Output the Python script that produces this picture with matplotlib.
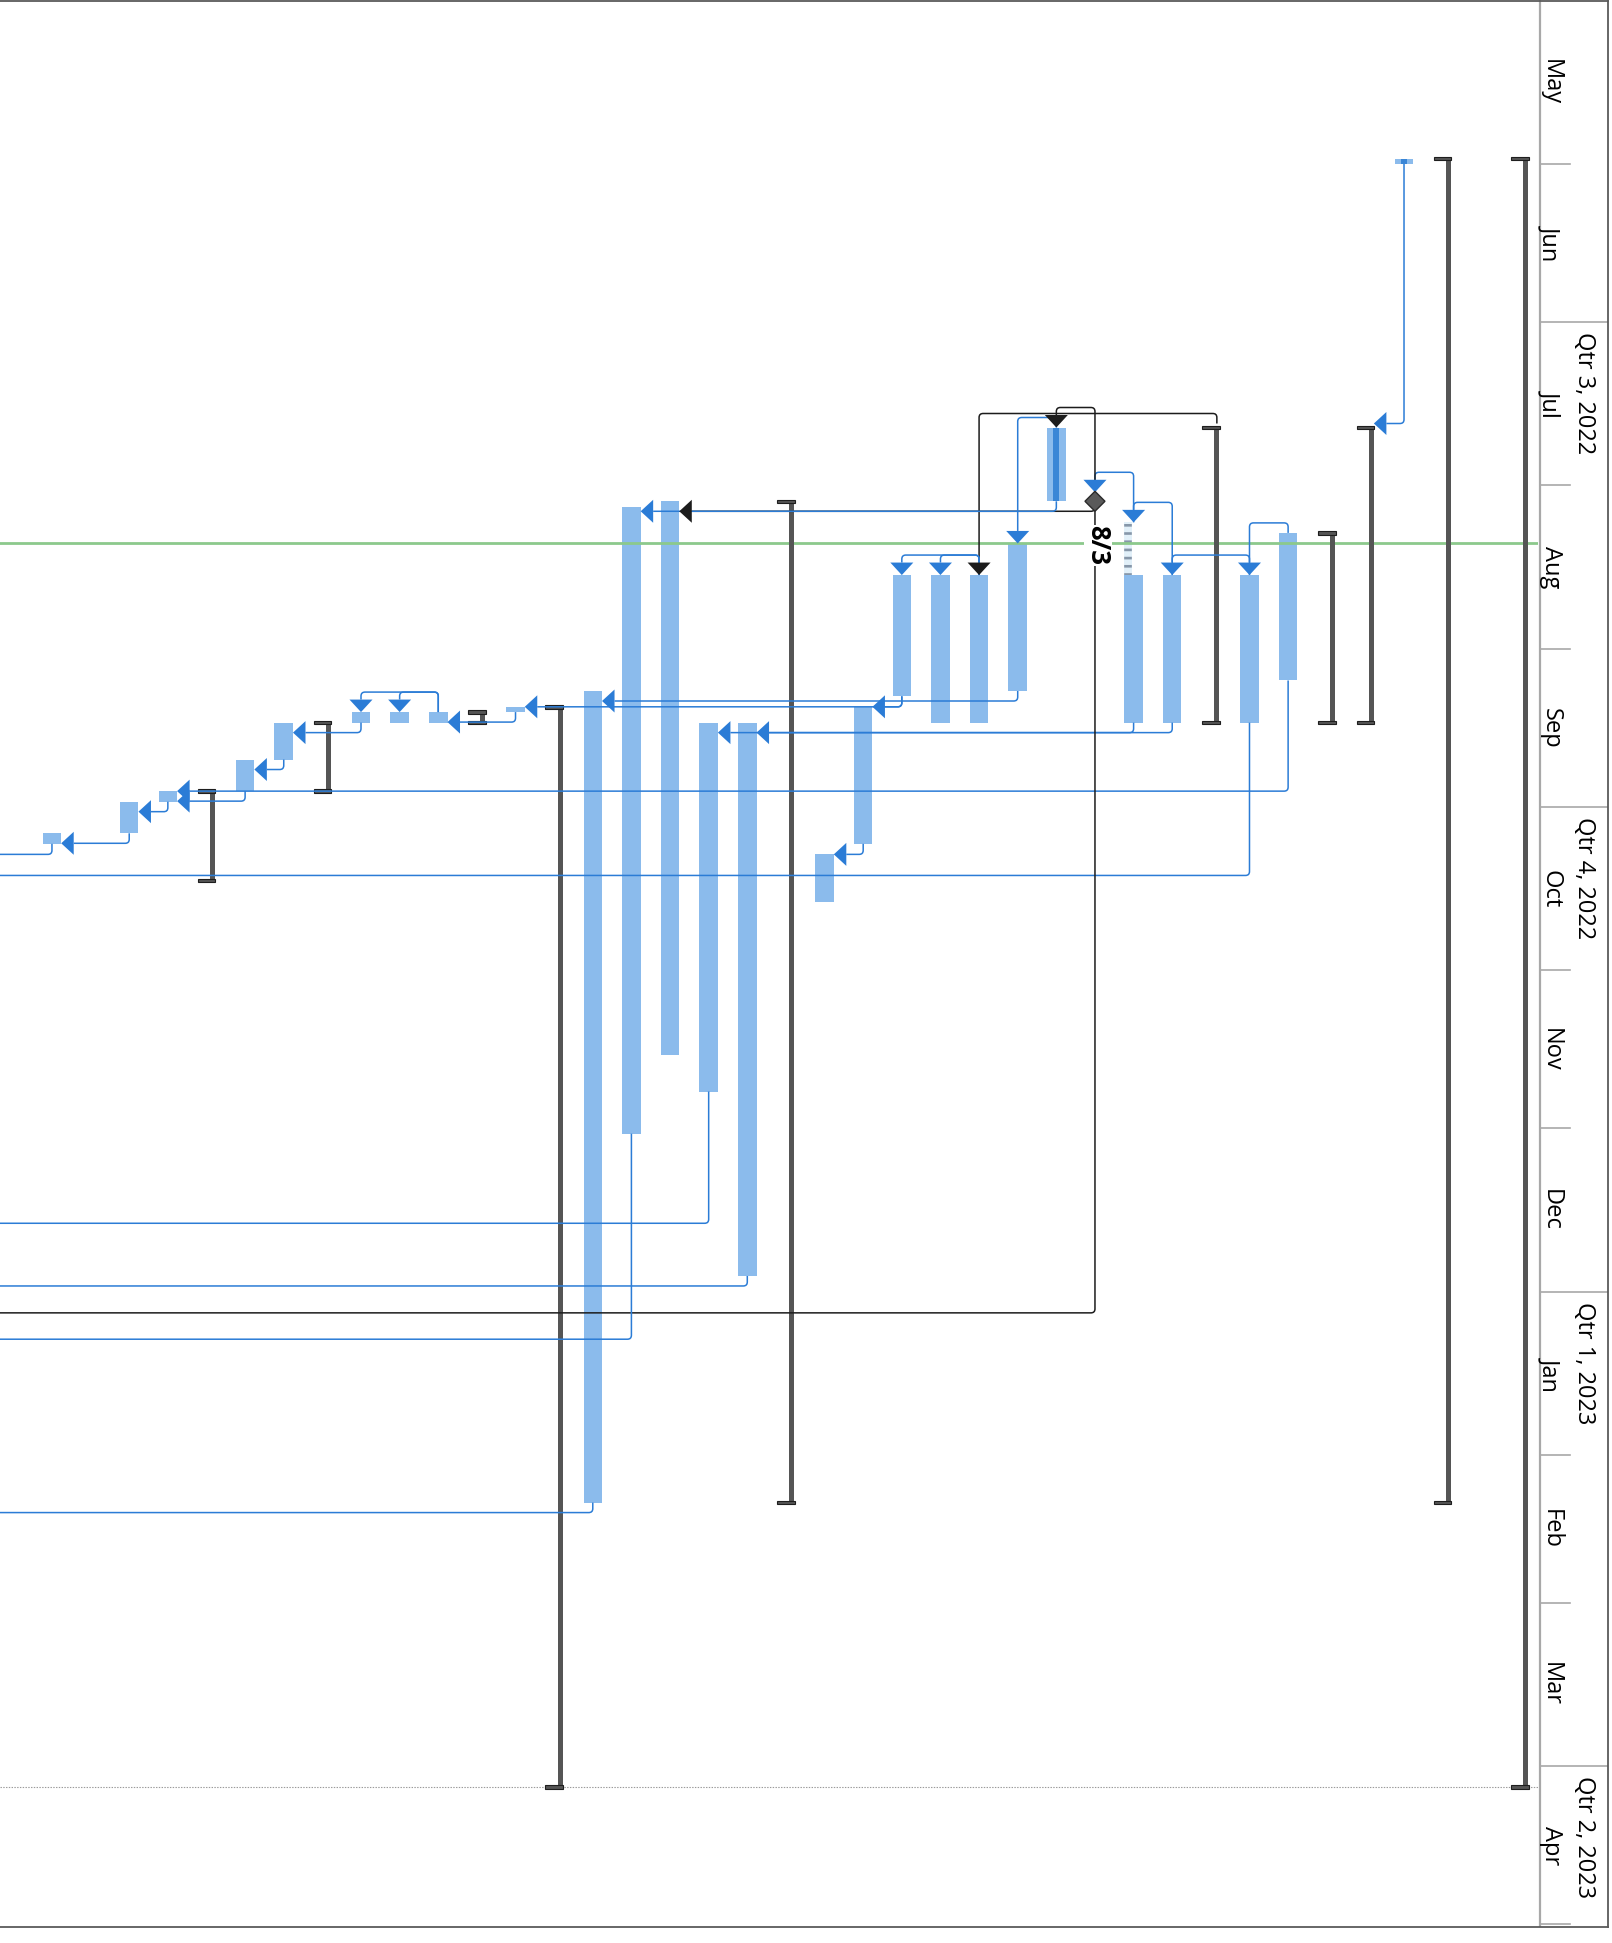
import numpy as np
import matplotlib.pyplot as plt
from matplotlib.path import Path
from matplotlib.patches import PathPatch, Polygon, Rectangle
from matplotlib.lines import Line2D

plt.rcParams['font.family'] = ['Open Sans', 'DejaVu Sans']
plt.rcParams['lines.scale_dashes'] = False

# gantt view turned on its side: time runs downward, row 0 is at the right edge
task_rows = [3, 6, 7, 9, 10, 12, 13, 14, 15, 16, 17, 18, 20, 21, 22, 23, 24,
             26, 28, 29, 30, 32, 33, 35, 36, 38]
task_start = ['2022-05-31', '2022-08-10', '2022-08-18', '2022-08-18', '2022-08-18',
              '2022-07-21', '2022-08-12', '2022-08-18', '2022-08-18', '2022-08-18',
              '2022-09-12', '2022-10-10', '2022-09-15', '2022-09-15', '2022-08-04',
              '2022-08-05', '2022-09-09', '2022-09-12', '2022-09-13', '2022-09-13',
              '2022-09-13', '2022-09-15', '2022-09-22', '2022-09-28', '2022-09-30',
              '2022-10-06']
task_finish = ['2022-05-31', '2022-09-06', '2022-09-14', '2022-09-14', '2022-09-14',
               '2022-08-03', '2022-09-08', '2022-09-14', '2022-09-14', '2022-09-09',
               '2022-10-07', '2022-10-18', '2022-12-28', '2022-11-23', '2022-11-16',
               '2022-12-01', '2023-02-09', '2022-09-12', '2022-09-14', '2022-09-14',
               '2022-09-14', '2022-09-21', '2022-09-27', '2022-09-29', '2022-10-05',
               '2022-10-07']
done_rows = [3, 12]          # 100% complete
split_rows = [10]
split_start = ['2022-08-08']

# successors further down the list, off the left edge (only their links show)
hidden_rows = [40, 41, 42, 43, 44, 45, 46]
hidden_start = ['2022-10-14', '2023-01-05', '2022-12-29', '2022-12-19',
                '2023-01-10', '2023-02-10', '2022-10-10']
hidden_finish = ['2022-11-04', '2023-01-19', '2023-01-12', '2023-01-06',
                 '2023-02-03', '2023-04-04', '2022-10-21']

summary_rows = [0, 2, 4, 5, 8, 19, 25, 27, 31, 34]
summary_start = ['2022-05-31', '2022-05-31', '2022-07-21', '2022-08-10', '2022-07-21',
                 '2022-08-04', '2022-09-12', '2022-09-13', '2022-09-15', '2022-09-28']
summary_finish = ['2023-04-04', '2023-02-09', '2022-09-14', '2022-09-14', '2022-09-14',
                  '2023-02-09', '2023-04-04', '2022-09-14', '2022-09-27', '2022-10-14']

milestone_rows = [11]
milestone_date = ['2022-08-03']
milestone_label = ['8/3']

link_pred = [3, 6, 6, 7, 7, 8, 9, 9, 10, 10, 11, 11, 11, 12, 12, 13, 14, 14, 16, 16,
             17, 20, 21, 23, 24, 26, 28, 28, 30, 32, 33, 35, 36, 38]
link_succ = [4, 7, 35, 9, 40, 14, 10, 20, 11, 21, 12, 22, 41, 13, 23, 24, 15, 16, 17, 26,
             18, 42, 43, 44, 45, 28, 29, 30, 32, 33, 35, 36, 38, 46]
link_type = ['FS', 'SS', 'FS', 'SS', 'FS', 'SS', 'SS', 'FS', 'SS', 'FS', 'SS', 'FS', 'FS',
             'SS', 'FS', 'FS', 'SS', 'SS', 'FS', 'FS', 'FS', 'FS', 'FS', 'FS', 'FS', 'FS',
             'SS', 'SS', 'FS', 'FS', 'FS', 'FS', 'FS', 'FS']
link_black = [False, False, False, False, False, True, False, False, False, False, True, True,
              True, False, False, False, False, False, False, False, False, False, False,
              False, False, False, False, False, False, False, False, False, False, False]

status_date = '2022-08-12'
finish_date = '2023-04-04'
month_names = ['May', 'Jun', 'Jul', 'Aug', 'Sep', 'Oct', 'Nov', 'Dec', 'Jan', 'Feb', 'Mar', 'Apr']
quarter_names = ['Qtr 3, 2022', 'Qtr 4, 2022', 'Qtr 1, 2023', 'Qtr 2, 2023']
quarter_start = ['2022-07-01', '2022-10-01', '2023-01-01', '2023-04-01']

# layout (pixels)
W, H = 1612, 1943
COL = 38.63      # px per row
PXD = 5.27       # px per day
X0 = 1519.9      # px of row 0
Y0 = 164.0       # px of 2022-06-01
CHART_R = 1538
TS_R = 1608
CHART_B = 1927

DAY0 = np.datetime64('2022-06-01')

BAR = '#8bbbec'
DONE = '#3a86d6'
BLUE = '#2b7cd6'
BLACK = '#1c1c1c'
SUMC = '#555555'
GRID = '#a8a8a8'
AH, AL = 11.5, 12.5   # arrow half width, arrow length


def day(s):
    return float((np.datetime64(s) - DAY0).astype(int))


def px(n):
    return n / COL


def py(n):
    return n / PXD


fig = plt.figure(figsize=(W / 100, H / 100), dpi=100)
ax = fig.add_axes([0, (H - CHART_B) / H, CHART_R / W, CHART_B / H])
ax.set_xlim(X0 / COL, (X0 - CHART_R) / COL)
ax.set_ylim((CHART_B - Y0) / PXD, -Y0 / PXD)
ax.axis('off')

info = {}

# tasks
for r, s, f in zip(task_rows + hidden_rows, task_start + hidden_start, task_finish + hidden_finish):
    a, b = day(s), day(f) + 1
    ax.add_patch(Rectangle((r - px(9.25), a), px(18.5), b - a, facecolor=BAR, edgecolor='none', zorder=2))
    if r in done_rows:
        ax.add_patch(Rectangle((r - px(3), a), px(6), b - a, facecolor=DONE, edgecolor='none', zorder=2.1))
    info[r] = dict(x=r, c=r, start=a, end=b, top=a, edge=r - px(9.25))

for r, s in zip(split_rows, split_start):
    a = day(s)
    b = info[r]['start']
    ax.add_patch(Rectangle((r - px(-1.5), a), px(7.7), b - a, facecolor='#e2f0f9', edgecolor='none', zorder=2))
    ax.plot([r + px(5.4)] * 2, [a + py(2), b], color='#8797a9', lw=5.5,
            linestyle=(0, (1.9, 4.0)), solid_capstyle='butt', zorder=2.1)
    info[r]['start'] = a
    info[r]['top'] = a

# summaries
for r, s, f in zip(summary_rows, summary_start, summary_finish):
    a, b = day(s), day(f) + 1
    ax.add_patch(Rectangle((r - px(8.5), a), px(5), b - a, facecolor=SUMC, edgecolor='none', zorder=2.7))
    for y in (a, b):
        ax.add_patch(Rectangle((r - px(8.75), y - py(1.7)), px(17.5), py(3.4), facecolor=SUMC,
                               edgecolor='#1e1e1e', lw=0.8, zorder=2.8))
    # links meet a summary at its cap
    info[r] = dict(x=r - px(6), c=r, start=a - py(4), end=b, top=a - py(4), edge=r - px(8.5))

# milestones
for r, d, lab in zip(milestone_rows, milestone_date, milestone_label):
    m = day(d) + 1
    ax.add_patch(Polygon([(r, m - py(10)), (r - px(10), m), (r, m + py(10)), (r + px(10), m)],
                         closed=True, facecolor='#5a5a5a', edgecolor='#2a2a2a', lw=1, zorder=5))
    ax.text(r - px(3), m + py(24), lab, rotation=270, ha='center', va='top', fontsize=18.5,
            fontweight='bold', color='black', zorder=6,
            bbox=dict(facecolor='white', edgecolor='none', pad=0.5))
    info[r] = dict(x=r, c=r, start=m, end=m, top=m - py(9), edge=r - px(10))


def toward(p, q, n):
    if p[0] == q[0]:
        return (p[0], p[1] + np.sign(q[1] - p[1]) * py(n))
    return (p[0] + np.sign(q[0] - p[0]) * px(n), p[1])


def route(pts, color):
    verts = [pts[0]]
    codes = [Path.MOVETO]
    for i in range(1, len(pts) - 1):
        verts += [toward(pts[i], pts[i - 1], 4), pts[i], toward(pts[i], pts[i + 1], 4)]
        codes += [Path.LINETO, Path.CURVE3, Path.CURVE3]
    verts.append(pts[-1])
    codes.append(Path.LINETO)
    ax.add_patch(PathPatch(Path(verts, codes), fill=False, edgecolor=color, lw=1.1,
                           capstyle='butt', zorder=3))


for p, s, kind, blk in zip(link_pred, link_succ, link_type, link_black):
    a, b = info[p], info[s]
    color = BLACK if blk else BLUE
    if kind == 'FS':
        y = max(a['end'] + py(10), b['top'])
        base = b['edge'] - px(AL)
        route([(a['x'], a['end']), (a['x'], y), (base, y)], color)
        head = [(b['edge'], y), (base, y - py(AH)), (base, y + py(AH))]
    else:
        y = min(a['start'] - py(10), b['top'] - py(20))
        base = b['top'] - py(AL)
        route([(a['x'], a['start']), (a['x'], y), (b['c'], y), (b['c'], base)], color)
        head = [(b['c'], b['top']), (b['c'] + px(AH), base), (b['c'] - px(AH), base)]
    ax.add_patch(Polygon(head, closed=True, facecolor=color, edgecolor='none', zorder=4))

# status date and project finish
ax.axhline(day(status_date), color='#8cc98c', lw=2, zorder=2.5)
ax.axhline(day(finish_date) + 1, color='#9a9a9a', lw=0.8, linestyle=(0, (1, 1)), zorder=1)

# timescale
ts = fig.add_axes([CHART_R / W, (H - CHART_B) / H, (TS_R - CHART_R) / W, CHART_B / H])
ts.set_xlim(0, TS_R - CHART_R)
ts.set_ylim(ax.get_ylim())
ts.axis('off')
ts.axvline(1.5, color=GRID, lw=1.6)

months = np.arange(np.datetime64('2022-05'), np.datetime64('2023-06'), np.timedelta64(1, 'M'))
mdays = [day(m.astype('datetime64[D]')) for m in months]
qdays = [day(q) for q in quarter_start]
for d in mdays[1:]:
    if d in qdays:
        ts.plot([1.5, TS_R - CHART_R], [d, d], color=GRID, lw=1.2)
    else:
        ts.plot([1.5, 32], [d, d], color=GRID, lw=1.2)
for name, a, b in zip(month_names, mdays[:-1], mdays[1:]):
    ts.text(13, (a + b) / 2, name, rotation=270, ha='center', va='center', fontsize=17, color='black')
for name, d in zip(quarter_names, qdays):
    ts.text(46, d + py(10), name, rotation=270, ha='center', va='top', fontsize=17, color='black')

# frame
for xs, ys in [([0, TS_R / W], [1 - 1 / H] * 2),
               ([0, TS_R / W], [(H - CHART_B) / H] * 2),
               ([TS_R / W] * 2, [(H - CHART_B) / H, 1 - 1 / H])]:
    fig.add_artist(Line2D(xs, ys, color='#5a5a5a', lw=1.3))

fig.savefig('out.png', dpi=100)
